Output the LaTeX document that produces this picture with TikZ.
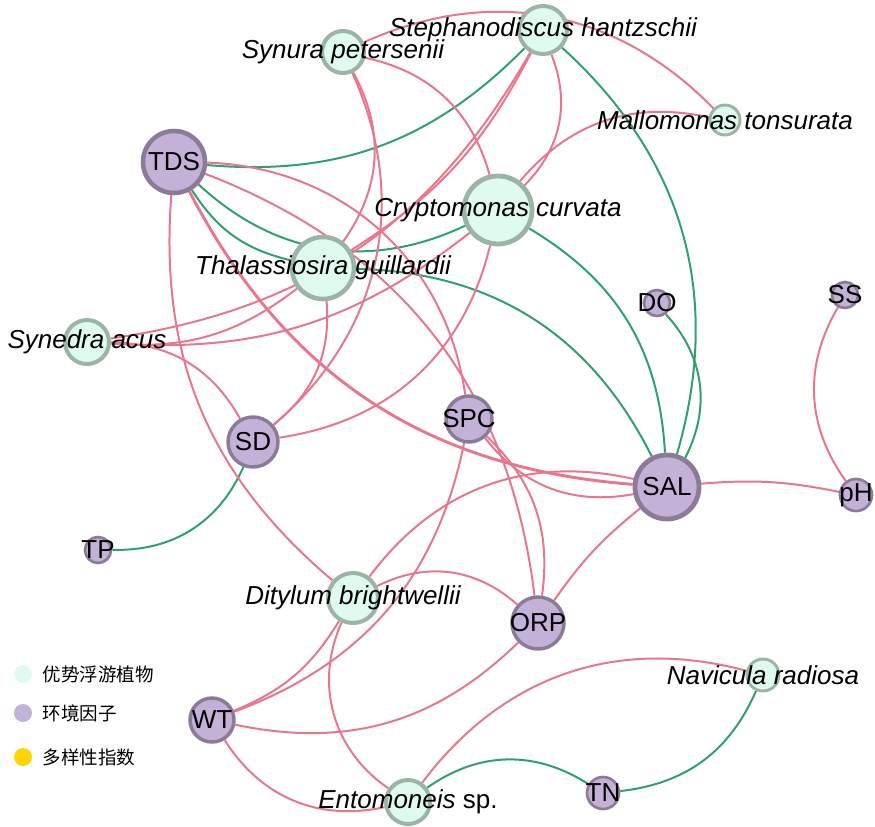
\documentclass[tikz,border=0pt]{standalone}
\usepackage{fontspec}
\setmainfont{Liberation Sans}
\newfontfamily\cjk{Noto Sans CJK SC}
\usetikzlibrary{positioning}
\definecolor{plantfill}{RGB}{223,251,239}
\definecolor{plantline}{RGB}{155,180,165}
\definecolor{envfill}{RGB}{196,177,216}
\definecolor{envline}{RGB}{140,123,150}
\definecolor{linkpink}{RGB}{232,118,142}
\definecolor{linkgreen}{RGB}{47,161,112}
\definecolor{idxyellow}{RGB}{255,212,0}
\newcommand\lab{\fontsize{19.5}{20}\selectfont}
\pgfdeclarelayer{edges}
\pgfsetlayers{edges,main}
\tikzset{
  plant/.style={circle,draw=plantline,fill=plantfill,line width=3pt,inner sep=0pt,
    label={[font=\lab\itshape]center:#1}},
  envnode/.style={circle,draw=envline,fill=envfill,line width=2.6pt,inner sep=0pt,
    label={[font=\lab]center:#1}},
  pinklink/.style={draw=linkpink,line width=1.5pt},
  greenlink/.style={draw=linkgreen,line width=1.5pt},
  legdot/.style={circle,minimum size=13.5pt,inner sep=0pt},
  legtext/.style={font=\cjk\fontsize{13.9}{14}\selectfont,inner sep=0pt},
}

\begin{document}
\begin{tikzpicture}[x=0.75pt,y=-0.75pt]
  \useasboundingbox (0,0) rectangle (875,826);

  % PLANKTON
  \node[plant={Stephanodiscus hantzschii},minimum size=36pt] (sh) at (543,30) {};
  \node[plant={Synura petersenii},minimum size=31.5pt] (sp) at (343,52) {};
  \node[plant={Mallomonas tonsurata},minimum size=22.5pt,line width=2.2pt] (mt) at (725,120) {};
  \node[plant={Cryptomonas curvata},minimum size=51pt,line width=3.6pt] (cc) at (498,210) {};
  \node[plant={Thalassiosira guillardii},minimum size=46.5pt,line width=3.4pt] (tg) at (323,268) {};
  \node[plant={Synedra acus},minimum size=33pt] (sa) at (87,342) {};
  \node[plant={Ditylum brightwellii},minimum size=37.5pt] (db) at (353,598) {};
  \node[plant={Navicula radiosa},minimum size=24pt,line width=2.2pt] (nr) at (763,675) {};
  \node[plant={{\itshape Entomoneis} \upshape sp.},minimum size=33pt] (en) at (408,802) {};

  % FACTORS
  \node[envnode=TDS,minimum size=46.5pt,line width=3.4pt] (tds) at (174,162) {};
  \node[envnode=DO,minimum size=19.5pt,line width=2pt] (do) at (657,303) {};
  \node[envnode=SS,minimum size=19.5pt,line width=2pt] (ss) at (845,295) {};
  \node[envnode=SD,minimum size=37.5pt] (sd) at (253,442) {};
  \node[envnode=SPC,minimum size=34.5pt] (spc) at (469,419) {};
  \node[envnode=SAL,minimum size=48pt,line width=3.6pt] (sal) at (667,487) {};
  \node[envnode=pH,minimum size=24pt,line width=2pt] (ph) at (856,495) {};
  \node[envnode=TP,minimum size=19.5pt,line width=2pt] (tp) at (98,550) {};
  \node[envnode=ORP,minimum size=39pt] (orp) at (538,623) {};
  \node[envnode=WT,minimum size=33pt] (wt) at (212,720) {};
  \node[envnode=TN,minimum size=24pt,line width=2pt] (tn) at (603,793) {};

  % LEGEND
  \node[legdot,fill=plantfill] (k1) at (23,674) {};
  \node[legdot,fill=envfill] (k2) at (23,713) {};
  \node[legdot,fill=idxyellow] (k3) at (23,757) {};
  \node[legtext,right=7.5pt of k1] (t1) {优势浮游植物};
  \node[legtext,right=7.5pt of k2] (t2) {环境因子};
  \node[legtext,right=7.5pt of k3] (t3) {多样性指数};

  \begin{pgfonlayer}{edges}
    % NEGATIVE
    \draw[greenlink] (tds) to[bend right=25] (sh);
    \draw[greenlink] (tds) to[bend right=34] (cc);
    \draw[greenlink] (tds) to[bend right=22] (tg);
    \draw[greenlink] (tg) to[bend left=31] (sal);
    \draw[greenlink] (cc) to[bend left=28] (sal);
    \draw[greenlink] (sh) to[bend left=32] (sal);
    \draw[greenlink] (do) to[bend left=35] (sal);
    \draw[greenlink] (sd) to[bend left=34] (tp);
    \draw[greenlink] (en) to[bend left=34] (tn);
    \draw[greenlink] (tn) to[bend right=30] (nr);

    % POSITIVE
    \draw[pinklink] (sp) to[bend left=35] (mt);
    \draw[pinklink] (cc) to[bend left=31] (mt);
    \draw[pinklink] (sh) to[bend left=33] (cc);
    \draw[pinklink] (sh) to[bend left=26] (sa);
    \draw[pinklink] (sh) to[bend left=15] (tg);
    \draw[pinklink] (sp) to[bend left=31] (cc);
    \draw[pinklink] (sp) to[bend left=37] (sd);
    \draw[pinklink] (sp) to[bend left=32] (tg);
    \draw[pinklink] (cc) to[bend left=21] (sa);
    \draw[pinklink] (cc) to[bend left=34] (sd);
    \draw[pinklink] (tg) to[bend left=21] (sa);
    \draw[pinklink] (tg) to[bend left=28] (sd);
    \draw[pinklink] (sa) to[bend left=30] (sd);
    \draw[pinklink] (tds) to[bend left=40] (spc);
    \draw[pinklink] (tds) to[bend left=31] (orp);
    \draw[pinklink,line width=2.2pt] (tds) to[bend right=29] (sal);
    \draw[pinklink] (tds) to[bend right=27] (db);
    \draw[pinklink] (spc) to[bend right=31] (sal);
    \draw[pinklink] (spc) to[bend left=27] (orp);
    \draw[pinklink] (wt) to[bend right=29] (spc);
    \draw[pinklink] (wt) to[bend right=18] (db);
    \draw[pinklink] (wt) to[bend right=28] (orp);
    \draw[pinklink] (wt) to[bend right=35] (en);
    \draw[pinklink] (db) to[bend right=40] (en);
    \draw[pinklink] (db) to[bend left=34] (orp);
    \draw[pinklink] (db) to[bend left=33] (sal);
    \draw[pinklink] (en) to[bend left=34] (nr);
    \draw[pinklink] (sal) to[bend right=8] (orp);
    \draw[pinklink] (sal) to[bend left=8] (ph);
    \draw[pinklink] (ss) to[bend right=33] (ph);
  \end{pgfonlayer}

\end{tikzpicture}
\end{document}
